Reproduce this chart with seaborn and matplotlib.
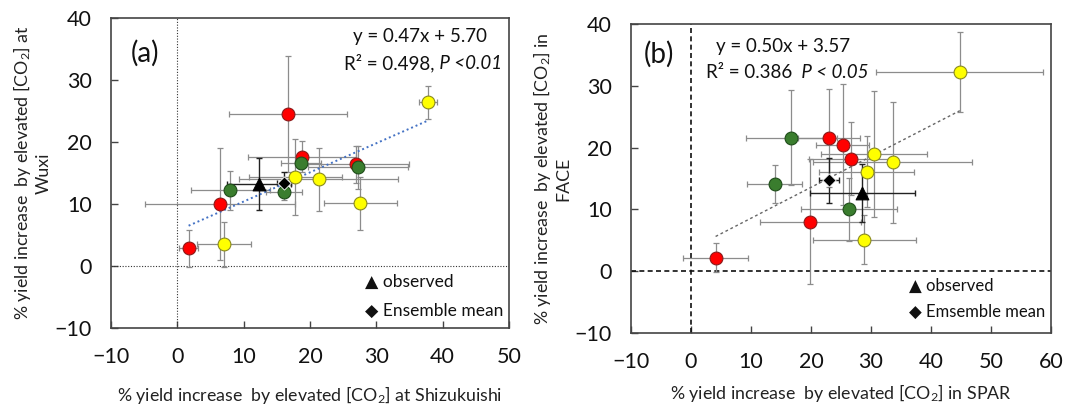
import numpy as np
import pandas as pd
import matplotlib
matplotlib.use("Agg")
import matplotlib.pyplot as plt
import seaborn as sns

# ---------------- data: panel (a) Shizukuishi vs Wuxi ----------------
a_group = ["red", "red", "red", "red", "red",
           "green", "green", "green", "green",
           "yellow", "yellow", "yellow", "yellow", "yellow"]
a_x =    [1.7, 6.4, 16.7, 18.8, 26.9,  8.0, 16.1, 18.7, 27.2,  7.0, 17.8, 21.3, 27.6, 37.8]
a_y =    [2.85, 10.0, 24.5, 17.6, 16.4, 12.2, 12.0, 16.6, 15.9, 3.5, 14.4, 14.0, 10.1, 26.4]
a_xerr = [1.4, 11.3, 8.9, 8.1, 8.0,  6.0, 2.7, 3.0, 7.5,  4.1, 7.0, 12.0, 5.5, 1.3]
a_yerr = [3.0, 9.0, 9.4, 2.5, 3.0,   3.2, 1.3, 1.0, 3.5,  3.6, 6.1, 5.1, 4.3, 2.7]
a_obs = [12.3, 13.2, 4.8, 4.2]     # x, y, xerr, yerr
a_ens = [16.1, 13.4, 1.0, 1.8]
a_fit = [0.47, 5.70]

# ---------------- data: panel (b) SPAR vs FACE ----------------
b_group = ["red", "red", "red", "red", "red",
           "green", "green", "green",
           "yellow", "yellow", "yellow", "yellow", "yellow"]
b_x =    [4.1, 19.9, 23.0, 25.3, 26.6,  16.7, 13.95, 26.4,  44.8, 30.5, 33.6, 29.3, 28.9]
b_y =    [2.2, 8.0, 21.6, 20.5, 18.2,   21.6, 14.1, 10.0,   32.2, 18.9, 17.6, 16.1, 5.1]
b_xerr = [5.4, 8.4, 5.2, 4.4, 7.0,      7.6, 4.55, 8.0,     13.9, 8.9, 13.2, 7.9, 8.6]
b_yerr = [2.4, 10.1, 7.9, 9.8, 5.9,     7.7, 3.05, 5.1,     6.5, 10.2, 9.8, 5.7, 4.0]
b_obs = [28.55, 12.7, 8.8, 4.7]
b_ens = [23.0, 14.7, 1.6, 3.6]
b_fit = [0.50, 3.57]

fills = {"red": "#FF0000", "green": "#3A7D2E", "yellow": "#FFFF00"}
edges = {"red": "#8B1A1A", "green": "#1F4D1A", "yellow": "#8A8A20"}

sns.set_theme(style="ticks")
plt.rcParams["font.family"] = ["Lato", "DejaVu Sans"]
plt.rcParams["mathtext.fontset"] = "custom"
plt.rcParams["mathtext.rm"] = "Lato"
plt.rcParams["mathtext.it"] = "Lato:italic"

fig = plt.figure(figsize=(10.75, 4.08), dpi=100)
fig.patch.set_facecolor("white")
axa = fig.add_axes([111 / 1075, (408 - 328) / 408, 398 / 1075, 310 / 408])
axb = fig.add_axes([631 / 1075, (408 - 333) / 408, 420 / 1075, 309 / 408])


def draw_panel(ax, group, x, y, xerr, yerr, obs, ens, fit, ref_style, fit_style):
    df = pd.DataFrame({"x": x, "y": y, "xerr": xerr, "yerr": yerr, "group": group})
    ax.axvline(0, **ref_style, zorder=1)
    ax.axhline(0, **ref_style, zorder=1)
    ax.errorbar(df["x"], df["y"], xerr=df["xerr"], yerr=df["yerr"], fmt="none",
                ecolor="#8C8C8C", elinewidth=0.9, capsize=2.5, capthick=0.9, zorder=2)
    ax.errorbar([obs[0]], [obs[1]], xerr=[obs[2]], yerr=[obs[3]], fmt="none",
                ecolor="#222222", elinewidth=1.0, capsize=2.5, capthick=1.0, zorder=2)
    ax.errorbar([ens[0]], [ens[1]], xerr=[ens[2]], yerr=[ens[3]], fmt="none",
                ecolor="#222222", elinewidth=1.0, capsize=2.5, capthick=1.0, zorder=2)
    xs = np.array([df["x"].min(), df["x"].max()])
    sns.lineplot(x=xs, y=fit[0] * xs + fit[1], ax=ax, zorder=2.5, **fit_style)
    for g in ["red", "green", "yellow"]:
        sub = df[df["group"] == g]
        sns.scatterplot(data=sub, x="x", y="y", color=fills[g], edgecolor=edges[g],
                        linewidth=0.8, s=85, ax=ax, zorder=3, legend=False)
    sns.scatterplot(x=[obs[0]], y=[obs[1]], marker="^", color="black", edgecolor="black",
                    s=85, ax=ax, zorder=4, legend=False)
    sns.scatterplot(x=[ens[0]], y=[ens[1]], marker="D", color="black", edgecolor="white",
                    linewidth=0.6, s=45, ax=ax, zorder=4, legend=False)


draw_panel(axa, a_group, a_x, a_y, a_xerr, a_yerr, a_obs, a_ens, a_fit,
           dict(color="#333333", ls=(0, (1, 1.5)), lw=0.8),
           dict(color="#4472C4", ls=(0, (1, 1.5)), lw=1.4))
draw_panel(axb, b_group, b_x, b_y, b_xerr, b_yerr, b_obs, b_ens, b_fit,
           dict(color="#111111", ls=(0, (3, 2)), lw=1.2),
           dict(color="#666666", ls=(0, (2, 2)), lw=1.0))

axa.set_xlim(-10, 50)
axb.set_xlim(-10, 60)
for ax in (axa, axb):
    ax.set_ylim(-10, 40)
    ax.set_yticks([-10, 0, 10, 20, 30, 40])
    ax.tick_params(direction="in", length=5, width=1.0, color="#444444",
                   labelsize=15.5, pad=14, labelcolor="#111111")
    for sp in ax.spines.values():
        sp.set_visible(True)
        sp.set_color("#444444")
        sp.set_linewidth(1.2)
    ax.set_facecolor("white")
axa.set_xticks([-10, 0, 10, 20, 30, 40, 50])
axb.set_xticks([-10, 0, 10, 20, 30, 40, 50, 60])

lab = dict(fontsize=12.8, color="#222222")
axa.set_xlabel("% yield increase  by elevated [CO$_2$] at Shizukuishi", labelpad=12, **lab)
axa.set_ylabel("% yield increase  by elevated [CO$_2$] at\nWuxi", labelpad=2, **lab)
axb.set_xlabel("% yield increase  by elevated [CO$_2$] in SPAR", labelpad=7, **lab)
axb.set_ylabel("% yield increase  by elevated [CO$_2$] in\nFACE", labelpad=2, **lab)

# panel letters
axa.text(-7.0, 34.3, "(a)", fontsize=20, ha="left", va="center", color="#111111")
axb.text(-7.8, 35.1, "(b)", fontsize=20, ha="left", va="center", color="#111111")

# equations
eq = dict(fontsize=13.5, va="center", color="#111111")
axa.text(36.6, 37.0, "y = 0.47x + 5.70", ha="center", **eq)
t1 = axa.text(38.8, 32.7, "R² = 0.498,", ha="right", **eq)
axa.annotate(" P <0.01", xy=(1, 0.5), xycoords=t1, ha="left", va="center",
             fontsize=13.5, style="italic", color="#111111")
axb.text(15.3, 36.4, "y = 0.50x + 3.57", ha="center", **eq)
t2 = axb.text(17.6, 32.1, "R² = 0.386 ", ha="right", **eq)
axb.annotate(" P < 0.05", xy=(1, 0.5), xycoords=t2, ha="left", va="center",
             fontsize=13.5, style="italic", color="#111111")

# in-plot legends
lg = dict(fontsize=12.5, ha="left", va="center", color="#111111",
          family=["Lato", "DejaVu Sans"])
axa.text(28.3, -2.5, "▲ observed", **lg)
axa.text(28.3, -7.2, "◆ Ensemble mean", **lg)
lg2 = dict(lg)
lg2["fontsize"] = 12
axb.text(36.4, -2.3, "▲ observed", **lg2)
axb.text(36.4, -6.6, "◆ Emsemble mean", **lg2)

fig.savefig("out.png", dpi=100, facecolor="white")
